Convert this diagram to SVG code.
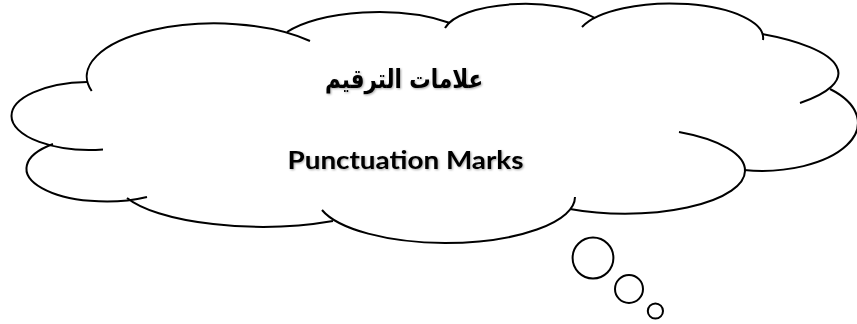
<svg xmlns="http://www.w3.org/2000/svg" width="857" height="324" viewBox="0 0 857 324">
<defs>
<style>
.ln{fill:none;stroke:#000;stroke-width:2;stroke-linecap:butt}
.bub{fill:#fff;stroke:#000;stroke-width:2}
.t{font-weight:bold;fill:#000}
</style>
<filter id="sh" x="-10%" y="-30%" width="120%" height="160%">
<feDropShadow dx="1" dy="1" stdDeviation="0.8" flood-color="#000" flood-opacity="0.35"/>
</filter>
</defs>
<rect width="857" height="324" fill="#fff"/>
<g id="cloud">
<path class="ln" d="M 91.7 91 A 128 53 0 0 1 310 41"/>
<path class="ln" d="M 287 32 A 105 40 0 0 1 450 23"/>
<path class="ln" d="M 445 28 A 82 30 0 0 1 595 18"/>
<path class="ln" d="M 582 27 A 93 34.5 0 0 1 763 40"/>
<path class="ln" d="M 762 34 A 170 47 0 0 1 800 103"/>
<path class="ln" d="M 830 89 A 96 48 0 0 1 744 170"/>
<path class="ln" d="M 679 132 A 120 43 0 0 1 745 171 A 120 43 0 0 1 570 209"/>
<path class="ln" d="M 575 197 A 130 46 0 0 1 445 243 A 130 46 0 0 1 322 210"/>
<path class="ln" d="M 333 221 A 145 45 0 0 1 127 198"/>
<path class="ln" d="M 147 197 A 80 33 0 0 1 53 144"/>
<path class="ln" d="M 103 149.5 A 78.5 34 0 0 1 11.5 116 A 78.5 34 0 0 1 87 82"/>
</g>
<g id="bubbles">
<circle class="bub" cx="593" cy="258" r="20.4"/>
<circle class="bub" cx="629" cy="289" r="14"/>
<circle class="bub" cx="655.4" cy="311" r="7.6"/>
</g>
<g id="label" filter="url(#sh)">
<text class="t" x="404" y="88" font-family="'DejaVu Sans', 'Noto Sans', sans-serif" font-size="26" text-anchor="middle" textLength="158" lengthAdjust="spacingAndGlyphs">علامات الترقيم</text>
<text class="t" x="287.5" y="168.5" font-family="Lato, 'Open Sans', sans-serif" font-size="24" textLength="236" lengthAdjust="spacingAndGlyphs">Punctuation Marks</text>
</g>
</svg>
